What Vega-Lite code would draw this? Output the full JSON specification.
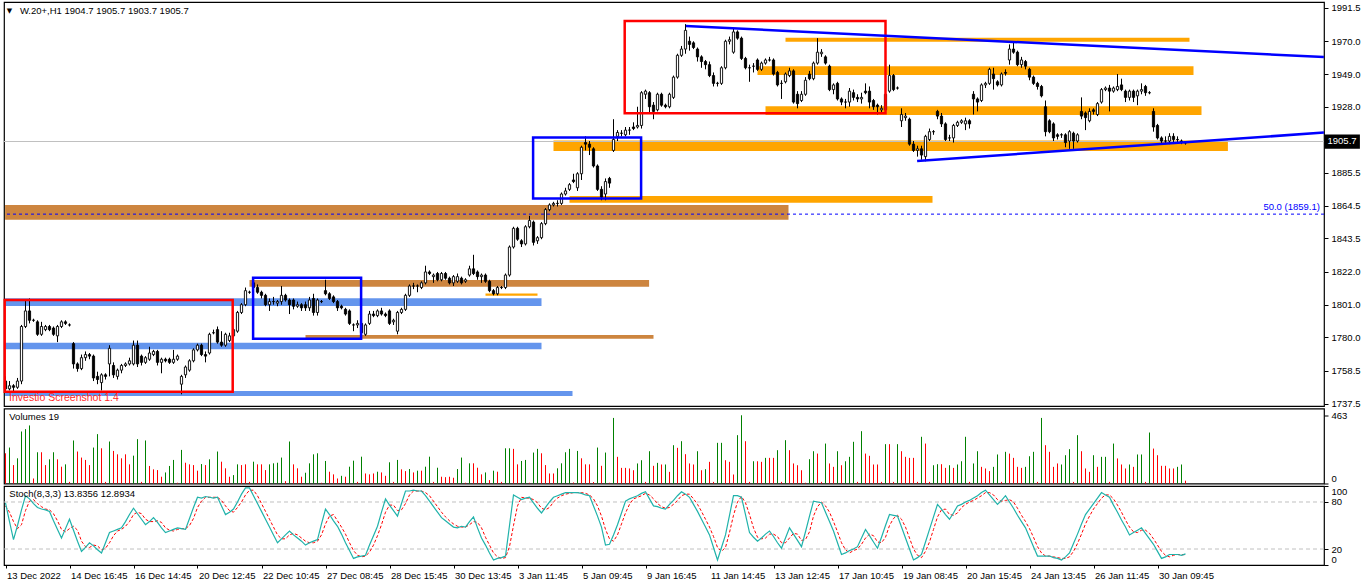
{
  "$schema": "https://vega.github.io/schema/vega-lite/v6.json",
  "padding": {"left": 2, "top": 1, "right": 0, "bottom": 0},
  "background": "white",
  "bounds": "flush",
  "spacing": 2.5,
  "config": {
    "view": {"stroke": "black", "strokeWidth": 1.2},
    "font": "Liberation Sans",
    "axis": {"grid": false, "labelFont": "Liberation Sans", "labelFontSize": 9.5, "labelColor": "black", "tickColor": "black", "domainColor": "black"}
  },
  "datasets": {
    "bars": [
      {"i":0,"o":1752,"h":1755,"l":1745,"c":1747,"v":205,"u":0,"k":79,"d":75},
      {"i":1,"o":1747,"h":1752,"l":1746,"c":1749,"v":244,"u":1,"k":55,"d":67},
      {"i":2,"o":1749,"h":1750,"l":1744.5,"c":1748,"v":125,"u":0,"k":32,"d":55},
      {"i":3,"o":1748,"h":1754,"l":1747,"c":1752,"v":171,"u":1,"k":50,"d":46},
      {"i":4,"o":1752,"h":1788,"l":1750,"c":1787,"v":353,"u":1,"k":70,"d":51},
      {"i":5,"o":1787,"h":1804,"l":1786,"c":1797,"v":369,"u":1,"k":88,"d":69},
      {"i":6,"o":1797,"h":1805,"l":1789,"c":1791,"v":394,"u":1,"k":84,"d":81},
      {"i":7,"o":1791,"h":1792,"l":1790,"c":1791,"v":34,"u":0,"k":78,"d":83},
      {"i":8,"o":1790,"h":1791,"l":1781,"c":1782,"v":212,"u":1,"k":73,"d":78},
      {"i":9,"o":1782,"h":1790,"l":1781,"c":1787,"v":212,"u":0,"k":71,"d":74},
      {"i":10,"o":1785,"h":1788,"l":1784,"c":1787,"v":125,"u":0,"k":70,"d":71},
      {"i":11,"o":1787,"h":1788,"l":1784,"c":1785,"v":164,"u":1,"k":68,"d":70},
      {"i":12,"o":1786,"h":1787,"l":1781,"c":1782,"v":212,"u":1,"k":56,"d":65},
      {"i":13,"o":1781,"h":1788,"l":1777,"c":1787,"v":164,"u":0,"k":45,"d":56},
      {"i":14,"o":1787,"h":1791,"l":1786,"c":1790,"v":114,"u":0,"k":34,"d":45},
      {"i":15,"o":1790,"h":1791,"l":1788,"c":1789,"v":130,"u":1,"k":46,"d":42},
      {"i":16,"o":1788,"h":1789,"l":1787,"c":1788,"v":11,"u":0,"k":58,"d":46},
      {"i":17,"o":1776,"h":1777,"l":1760,"c":1763,"v":292,"u":1,"k":44,"d":49},
      {"i":18,"o":1763,"h":1764,"l":1758,"c":1760,"v":217,"u":0,"k":30,"d":44},
      {"i":19,"o":1760,"h":1769,"l":1759,"c":1767,"v":176,"u":0,"k":17,"d":30},
      {"i":20,"o":1767,"h":1771,"l":1765,"c":1769,"v":160,"u":0,"k":22,"d":23},
      {"i":21,"o":1769,"h":1770,"l":1766,"c":1768,"v":125,"u":0,"k":28,"d":22},
      {"i":22,"o":1768,"h":1769,"l":1752,"c":1754,"v":244,"u":1,"k":24,"d":25},
      {"i":23,"o":1755,"h":1758,"l":1750,"c":1753,"v":335,"u":1,"k":19,"d":24},
      {"i":24,"o":1751,"h":1757,"l":1746,"c":1756,"v":239,"u":0,"k":15,"d":19},
      {"i":25,"o":1756,"h":1757,"l":1753,"c":1755,"v":11,"u":0,"k":28,"d":21},
      {"i":26,"o":1763,"h":1775,"l":1755,"c":1773,"v":285,"u":1,"k":41,"d":28},
      {"i":27,"o":1762,"h":1764,"l":1754,"c":1756,"v":221,"u":0,"k":43,"d":37},
      {"i":28,"o":1755,"h":1760,"l":1753,"c":1759,"v":198,"u":0,"k":45,"d":43},
      {"i":29,"o":1759,"h":1763,"l":1757,"c":1762,"v":171,"u":0,"k":47,"d":45},
      {"i":30,"o":1762,"h":1764,"l":1761,"c":1763,"v":198,"u":0,"k":55,"d":49},
      {"i":31,"o":1763,"h":1767,"l":1762,"c":1765,"v":130,"u":0,"k":64,"d":55},
      {"i":32,"o":1763,"h":1778,"l":1762,"c":1775,"v":189,"u":1,"k":72,"d":64},
      {"i":33,"o":1775,"h":1778,"l":1761,"c":1763,"v":301,"u":1,"k":65,"d":67},
      {"i":34,"o":1768,"h":1769,"l":1762,"c":1764,"v":11,"u":0,"k":58,"d":65},
      {"i":35,"o":1764,"h":1768,"l":1763,"c":1767,"v":292,"u":1,"k":51,"d":58},
      {"i":36,"o":1766,"h":1774,"l":1765,"c":1770,"v":119,"u":0,"k":55,"d":55},
      {"i":37,"o":1769,"h":1772,"l":1768,"c":1771,"v":96,"u":0,"k":60,"d":55},
      {"i":38,"o":1771,"h":1772,"l":1762,"c":1764,"v":91,"u":0,"k":54,"d":56},
      {"i":39,"o":1764,"h":1767,"l":1757,"c":1766,"v":46,"u":0,"k":47,"d":54},
      {"i":40,"o":1766,"h":1767,"l":1764,"c":1765,"v":75,"u":1,"k":41,"d":47},
      {"i":41,"o":1766,"h":1767,"l":1763,"c":1764,"v":119,"u":1,"k":43,"d":44},
      {"i":42,"o":1764,"h":1772,"l":1763,"c":1766,"v":160,"u":1,"k":45,"d":43},
      {"i":43,"o":1766,"h":1769,"l":1765,"c":1768,"v":5,"u":0,"k":47,"d":45},
      {"i":44,"o":1750,"h":1756,"l":1743.5,"c":1755,"v":228,"u":1,"k":46,"d":46},
      {"i":45,"o":1756,"h":1762,"l":1754,"c":1761,"v":141,"u":0,"k":45,"d":46},
      {"i":46,"o":1759,"h":1766,"l":1758,"c":1765,"v":130,"u":0,"k":59,"d":50},
      {"i":47,"o":1765,"h":1773,"l":1764,"c":1772,"v":125,"u":0,"k":73,"d":59},
      {"i":48,"o":1772,"h":1776,"l":1771,"c":1775,"v":87,"u":0,"k":86,"d":73},
      {"i":49,"o":1775,"h":1776,"l":1768,"c":1769,"v":132,"u":1,"k":85,"d":81},
      {"i":50,"o":1769,"h":1771,"l":1764,"c":1768,"v":125,"u":0,"k":87,"d":86},
      {"i":51,"o":1770,"h":1783,"l":1769,"c":1782,"v":164,"u":1,"k":86,"d":86},
      {"i":52,"o":1783,"h":1785,"l":1782,"c":1783,"v":5,"u":0,"k":85,"d":86},
      {"i":53,"o":1785,"h":1787,"l":1776,"c":1777,"v":217,"u":1,"k":86,"d":86},
      {"i":54,"o":1777,"h":1784,"l":1774,"c":1775,"v":148,"u":0,"k":75,"d":82},
      {"i":55,"o":1775,"h":1783,"l":1774,"c":1782,"v":103,"u":0,"k":64,"d":75},
      {"i":56,"o":1778,"h":1783,"l":1777,"c":1781,"v":46,"u":0,"k":67,"d":69},
      {"i":57,"o":1781,"h":1786,"l":1780,"c":1785,"v":57,"u":1,"k":71,"d":67},
      {"i":58,"o":1784,"h":1797,"l":1783,"c":1796,"v":130,"u":1,"k":80,"d":73},
      {"i":59,"o":1796,"h":1802,"l":1795,"c":1801,"v":125,"u":0,"k":90,"d":80},
      {"i":60,"o":1801,"h":1812,"l":1800,"c":1810,"v":130,"u":0,"k":98,"d":89},
      {"i":61,"o":1809,"h":1810,"l":1808,"c":1809,"v":11,"u":0,"k":98,"d":95},
      {"i":62,"o":1815,"h":1817,"l":1811,"c":1812,"v":148,"u":1,"k":88,"d":95},
      {"i":63,"o":1812,"h":1814,"l":1808,"c":1809,"v":130,"u":0,"k":78,"d":88},
      {"i":64,"o":1809,"h":1810,"l":1805,"c":1807,"v":130,"u":0,"k":68,"d":78},
      {"i":65,"o":1807,"h":1808,"l":1800,"c":1801,"v":91,"u":0,"k":58,"d":68},
      {"i":66,"o":1801,"h":1805,"l":1797,"c":1803,"v":130,"u":1,"k":48,"d":58},
      {"i":67,"o":1803,"h":1806,"l":1801,"c":1803,"v":137,"u":1,"k":38,"d":48},
      {"i":68,"o":1802,"h":1804,"l":1800,"c":1803,"v":141,"u":1,"k":28,"d":38},
      {"i":69,"o":1803,"h":1813,"l":1801,"c":1807,"v":176,"u":1,"k":33,"d":33},
      {"i":70,"o":1807,"h":1808,"l":1803,"c":1804,"v":16,"u":0,"k":38,"d":33},
      {"i":71,"o":1804,"h":1805,"l":1795,"c":1801,"v":285,"u":1,"k":43,"d":38},
      {"i":72,"o":1804,"h":1805,"l":1798,"c":1800,"v":130,"u":0,"k":38,"d":40},
      {"i":73,"o":1800,"h":1803,"l":1799,"c":1801,"v":103,"u":0,"k":34,"d":38},
      {"i":74,"o":1801,"h":1802,"l":1797,"c":1799,"v":46,"u":0,"k":30,"d":34},
      {"i":75,"o":1801,"h":1803,"l":1797,"c":1799,"v":73,"u":1,"k":25,"d":30},
      {"i":76,"o":1799,"h":1806,"l":1797,"c":1804,"v":137,"u":1,"k":28,"d":28},
      {"i":77,"o":1805,"h":1808,"l":1794,"c":1796,"v":198,"u":1,"k":30,"d":28},
      {"i":78,"o":1796,"h":1805,"l":1794,"c":1804,"v":205,"u":1,"k":32,"d":30},
      {"i":79,"o":1803,"h":1804,"l":1802,"c":1803,"v":5,"u":0,"k":52,"d":38},
      {"i":80,"o":1810,"h":1817,"l":1807,"c":1808,"v":153,"u":1,"k":71,"d":52},
      {"i":81,"o":1808,"h":1809,"l":1804,"c":1805,"v":80,"u":0,"k":64,"d":62},
      {"i":82,"o":1806,"h":1807,"l":1802,"c":1803,"v":62,"u":0,"k":56,"d":64},
      {"i":83,"o":1803,"h":1804,"l":1797,"c":1799,"v":34,"u":0,"k":49,"d":56},
      {"i":84,"o":1800,"h":1801,"l":1798,"c":1799,"v":52,"u":1,"k":39,"d":48},
      {"i":85,"o":1798,"h":1799,"l":1794,"c":1795,"v":46,"u":0,"k":28,"d":39},
      {"i":86,"o":1797,"h":1798,"l":1788,"c":1789,"v":114,"u":1,"k":18,"d":28},
      {"i":87,"o":1788,"h":1789,"l":1784,"c":1788,"v":155,"u":1,"k":8,"d":18},
      {"i":88,"o":1788,"h":1791,"l":1786,"c":1789,"v":11,"u":0,"k":10,"d":12},
      {"i":89,"o":1789,"h":1790,"l":1782,"c":1783,"v":182,"u":1,"k":11,"d":10},
      {"i":90,"o":1782,"h":1789,"l":1781,"c":1788,"v":68,"u":0,"k":12,"d":11},
      {"i":91,"o":1789,"h":1797,"l":1788,"c":1795,"v":62,"u":0,"k":25,"d":16},
      {"i":92,"o":1795,"h":1797,"l":1793,"c":1794,"v":68,"u":0,"k":37,"d":25},
      {"i":93,"o":1794,"h":1798,"l":1793,"c":1797,"v":80,"u":1,"k":49,"d":37},
      {"i":94,"o":1797,"h":1799,"l":1794,"c":1795,"v":75,"u":0,"k":67,"d":51},
      {"i":95,"o":1795,"h":1796,"l":1793,"c":1794,"v":52,"u":0,"k":84,"d":67},
      {"i":96,"o":1797,"h":1798,"l":1788,"c":1789,"v":144,"u":1,"k":76,"d":76},
      {"i":97,"o":1790,"h":1792,"l":1788,"c":1791,"v":11,"u":0,"k":69,"d":76},
      {"i":98,"o":1784,"h":1797,"l":1782,"c":1796,"v":160,"u":1,"k":62,"d":69},
      {"i":99,"o":1796,"h":1799,"l":1795,"c":1798,"v":96,"u":0,"k":78,"d":70},
      {"i":100,"o":1798,"h":1808,"l":1797,"c":1807,"v":84,"u":0,"k":94,"d":78},
      {"i":101,"o":1807,"h":1814,"l":1806,"c":1813,"v":98,"u":1,"k":94,"d":89},
      {"i":102,"o":1813,"h":1815,"l":1811,"c":1813,"v":75,"u":0,"k":95,"d":94},
      {"i":103,"o":1813,"h":1814,"l":1809,"c":1813,"v":87,"u":1,"k":94,"d":94},
      {"i":104,"o":1812,"h":1816,"l":1811,"c":1815,"v":87,"u":0,"k":94,"d":94},
      {"i":105,"o":1815,"h":1826,"l":1814,"c":1822,"v":114,"u":1,"k":88,"d":92},
      {"i":106,"o":1822,"h":1823,"l":1820,"c":1821,"v":182,"u":1,"k":81,"d":88},
      {"i":107,"o":1819,"h":1821,"l":1815,"c":1820,"v":11,"u":0,"k":74,"d":81},
      {"i":108,"o":1821,"h":1822,"l":1816,"c":1817,"v":107,"u":1,"k":67,"d":74},
      {"i":109,"o":1817,"h":1822,"l":1816,"c":1821,"v":46,"u":0,"k":60,"d":67},
      {"i":110,"o":1821,"h":1822,"l":1817,"c":1818,"v":43,"u":0,"k":56,"d":61},
      {"i":111,"o":1818,"h":1819,"l":1814,"c":1815,"v":46,"u":0,"k":52,"d":56},
      {"i":112,"o":1815,"h":1820,"l":1813,"c":1819,"v":39,"u":0,"k":48,"d":52},
      {"i":113,"o":1816,"h":1821,"l":1815,"c":1819,"v":98,"u":1,"k":47,"d":49},
      {"i":114,"o":1818,"h":1819,"l":1814,"c":1815,"v":176,"u":1,"k":49,"d":48},
      {"i":115,"o":1816,"h":1818,"l":1815,"c":1817,"v":5,"u":0,"k":48,"d":48},
      {"i":116,"o":1820,"h":1826,"l":1819,"c":1824,"v":137,"u":1,"k":55,"d":51},
      {"i":117,"o":1824,"h":1833,"l":1820,"c":1821,"v":137,"u":0,"k":61,"d":55},
      {"i":118,"o":1822,"h":1823,"l":1817,"c":1819,"v":107,"u":0,"k":47,"d":54},
      {"i":119,"o":1819,"h":1821,"l":1815,"c":1820,"v":62,"u":0,"k":34,"d":47},
      {"i":120,"o":1820,"h":1821,"l":1815,"c":1816,"v":75,"u":1,"k":25,"d":35},
      {"i":121,"o":1816,"h":1817,"l":1809,"c":1810,"v":23,"u":0,"k":15,"d":25},
      {"i":122,"o":1810,"h":1811,"l":1807,"c":1808,"v":87,"u":1,"k":6,"d":15},
      {"i":123,"o":1808,"h":1813,"l":1807,"c":1812,"v":80,"u":0,"k":8,"d":10},
      {"i":124,"o":1812,"h":1813,"l":1811,"c":1812,"v":11,"u":0,"k":9,"d":8},
      {"i":125,"o":1812,"h":1821,"l":1811,"c":1820,"v":239,"u":1,"k":11,"d":9},
      {"i":126,"o":1820,"h":1839,"l":1819,"c":1838,"v":239,"u":1,"k":50,"d":23},
      {"i":127,"o":1838,"h":1851,"l":1837,"c":1850,"v":235,"u":0,"k":89,"d":50},
      {"i":128,"o":1850,"h":1851,"l":1842,"c":1843,"v":130,"u":0,"k":86,"d":75},
      {"i":129,"o":1842,"h":1843,"l":1838,"c":1840,"v":153,"u":1,"k":83,"d":86},
      {"i":130,"o":1840,"h":1852,"l":1839,"c":1851,"v":160,"u":1,"k":85,"d":85},
      {"i":131,"o":1851,"h":1858,"l":1850,"c":1855,"v":5,"u":0,"k":86,"d":85},
      {"i":132,"o":1854,"h":1855,"l":1839,"c":1841,"v":210,"u":1,"k":79,"d":83},
      {"i":133,"o":1842,"h":1845,"l":1840,"c":1844,"v":235,"u":1,"k":72,"d":79},
      {"i":134,"o":1844,"h":1854,"l":1843,"c":1853,"v":205,"u":0,"k":66,"d":72},
      {"i":135,"o":1853,"h":1863,"l":1852,"c":1862,"v":125,"u":0,"k":73,"d":70},
      {"i":136,"o":1862,"h":1866,"l":1861,"c":1865,"v":68,"u":0,"k":80,"d":73},
      {"i":137,"o":1865,"h":1867,"l":1864,"c":1866,"v":68,"u":0,"k":86,"d":80},
      {"i":138,"o":1866,"h":1868,"l":1864,"c":1866,"v":103,"u":1,"k":88,"d":85},
      {"i":139,"o":1866,"h":1873,"l":1865,"c":1872,"v":137,"u":1,"k":90,"d":88},
      {"i":140,"o":1872,"h":1876,"l":1871,"c":1874,"v":212,"u":1,"k":92,"d":90},
      {"i":141,"o":1875,"h":1879,"l":1874,"c":1878,"v":235,"u":1,"k":92,"d":91},
      {"i":142,"o":1881,"h":1885,"l":1879,"c":1880,"v":7,"u":0,"k":92,"d":92},
      {"i":143,"o":1876,"h":1886,"l":1874,"c":1885,"v":221,"u":1,"k":92,"d":92},
      {"i":144,"o":1885,"h":1903,"l":1881,"c":1902,"v":171,"u":0,"k":91,"d":92},
      {"i":145,"o":1905,"h":1909,"l":1900,"c":1904,"v":130,"u":0,"k":89,"d":91},
      {"i":146,"o":1904,"h":1906,"l":1897,"c":1902,"v":130,"u":0,"k":88,"d":89},
      {"i":147,"o":1901,"h":1902,"l":1889,"c":1890,"v":10,"u":0,"k":75,"d":84},
      {"i":148,"o":1890,"h":1891,"l":1874,"c":1875,"v":244,"u":1,"k":62,"d":75},
      {"i":149,"o":1875,"h":1877,"l":1868,"c":1870,"v":120,"u":0,"k":48,"d":62},
      {"i":150,"o":1872,"h":1882,"l":1868,"c":1880,"v":210,"u":1,"k":25,"d":45},
      {"i":151,"o":1882,"h":1883,"l":1876,"c":1879,"v":5,"u":0,"k":26,"d":33},
      {"i":152,"o":1900,"h":1920,"l":1899,"c":1907,"v":445,"u":1,"k":38,"d":30},
      {"i":153,"o":1909,"h":1913,"l":1906,"c":1911.5,"v":181,"u":0,"k":51,"d":38},
      {"i":154,"o":1911,"h":1913,"l":1909,"c":1911,"v":106,"u":0,"k":66,"d":52},
      {"i":155,"o":1910,"h":1915,"l":1909,"c":1913,"v":106,"u":0,"k":81,"d":66},
      {"i":156,"o":1913,"h":1915,"l":1910,"c":1913,"v":102,"u":0,"k":84,"d":77},
      {"i":157,"o":1915,"h":1918,"l":1913,"c":1914,"v":90,"u":0,"k":86,"d":84},
      {"i":158,"o":1915,"h":1928,"l":1914,"c":1916,"v":136,"u":1,"k":88,"d":86},
      {"i":159,"o":1916,"h":1938,"l":1914,"c":1937,"v":158,"u":1,"k":91,"d":88},
      {"i":160,"o":1936,"h":1939,"l":1933,"c":1938,"v":11,"u":0,"k":93,"d":91},
      {"i":161,"o":1937,"h":1938,"l":1924,"c":1928,"v":219,"u":1,"k":84,"d":89},
      {"i":162,"o":1929,"h":1931,"l":1920,"c":1925,"v":120,"u":0,"k":75,"d":84},
      {"i":163,"o":1926,"h":1937,"l":1925,"c":1936,"v":140,"u":1,"k":74,"d":78},
      {"i":164,"o":1936,"h":1937,"l":1928,"c":1929,"v":129,"u":0,"k":72,"d":74},
      {"i":165,"o":1929,"h":1930,"l":1927,"c":1928,"v":129,"u":1,"k":71,"d":72},
      {"i":166,"o":1928,"h":1937,"l":1927,"c":1936,"v":79,"u":0,"k":77,"d":73},
      {"i":167,"o":1934,"h":1948,"l":1933,"c":1947,"v":260,"u":1,"k":82,"d":77},
      {"i":168,"o":1947,"h":1962,"l":1946,"c":1961,"v":242,"u":0,"k":88,"d":82},
      {"i":169,"o":1961,"h":1967,"l":1960,"c":1965,"v":287,"u":1,"k":93,"d":88},
      {"i":170,"o":1965,"h":1981,"l":1962,"c":1977,"v":199,"u":0,"k":90,"d":90},
      {"i":171,"o":1970,"h":1973,"l":1964,"c":1968,"v":136,"u":0,"k":86,"d":90},
      {"i":172,"o":1969,"h":1970,"l":1965,"c":1966,"v":129,"u":0,"k":77,"d":84},
      {"i":173,"o":1965,"h":1966,"l":1957,"c":1960,"v":219,"u":1,"k":68,"d":77},
      {"i":174,"o":1960,"h":1961,"l":1953,"c":1957,"v":90,"u":0,"k":58,"d":68},
      {"i":175,"o":1957,"h":1958,"l":1952,"c":1955,"v":97,"u":1,"k":48,"d":58},
      {"i":176,"o":1955,"h":1957,"l":1947,"c":1948,"v":147,"u":0,"k":38,"d":48},
      {"i":177,"o":1948,"h":1950,"l":1941,"c":1943,"v":11,"u":0,"k":22,"d":36},
      {"i":178,"o":1943,"h":1944,"l":1941,"c":1943,"v":276,"u":1,"k":6,"d":22},
      {"i":179,"o":1943,"h":1954,"l":1942,"c":1953,"v":276,"u":1,"k":22,"d":17},
      {"i":180,"o":1953,"h":1971,"l":1952,"c":1970,"v":158,"u":0,"k":38,"d":22},
      {"i":181,"o":1970,"h":1973,"l":1968,"c":1971,"v":147,"u":0,"k":63,"d":41},
      {"i":182,"o":1963,"h":1978,"l":1962,"c":1976,"v":61,"u":0,"k":88,"d":63},
      {"i":183,"o":1976,"h":1977,"l":1971,"c":1972,"v":328,"u":1,"k":88,"d":80},
      {"i":184,"o":1972,"h":1973,"l":1958,"c":1959,"v":463,"u":1,"k":86,"d":87},
      {"i":185,"o":1959,"h":1960,"l":1952,"c":1953,"v":287,"u":0,"k":64,"d":79},
      {"i":186,"o":1953,"h":1955,"l":1944,"c":1953,"v":11,"u":0,"k":41,"d":64},
      {"i":187,"o":1954,"h":1956,"l":1950,"c":1954,"v":151,"u":1,"k":35,"d":47},
      {"i":188,"o":1958,"h":1959,"l":1951,"c":1952,"v":151,"u":0,"k":30,"d":35},
      {"i":189,"o":1952,"h":1957,"l":1951,"c":1956,"v":147,"u":0,"k":34,"d":33},
      {"i":190,"o":1956,"h":1959,"l":1955,"c":1958,"v":174,"u":1,"k":39,"d":34},
      {"i":191,"o":1958,"h":1960,"l":1957,"c":1958,"v":174,"u":0,"k":43,"d":39},
      {"i":192,"o":1958,"h":1959,"l":1948,"c":1949,"v":174,"u":0,"k":36,"d":39},
      {"i":193,"o":1950,"h":1951,"l":1941,"c":1942,"v":226,"u":1,"k":28,"d":36},
      {"i":194,"o":1943,"h":1945,"l":1933,"c":1943,"v":11,"u":0,"k":21,"d":28},
      {"i":195,"o":1944,"h":1950,"l":1943,"c":1949,"v":294,"u":1,"k":34,"d":28},
      {"i":196,"o":1948,"h":1953,"l":1947,"c":1951,"v":226,"u":0,"k":47,"d":34},
      {"i":197,"o":1951,"h":1952,"l":1930,"c":1931,"v":136,"u":0,"k":39,"d":40},
      {"i":198,"o":1936,"h":1938,"l":1927,"c":1930,"v":124,"u":0,"k":31,"d":39},
      {"i":199,"o":1932,"h":1938,"l":1931,"c":1936,"v":90,"u":0,"k":23,"d":31},
      {"i":200,"o":1936,"h":1947,"l":1935,"c":1945,"v":5,"u":0,"k":42,"d":32},
      {"i":201,"o":1949,"h":1951,"l":1945,"c":1946,"v":165,"u":1,"k":62,"d":42},
      {"i":202,"o":1946,"h":1957,"l":1945,"c":1956,"v":219,"u":1,"k":81,"d":62},
      {"i":203,"o":1956,"h":1972,"l":1955,"c":1963,"v":203,"u":0,"k":80,"d":74},
      {"i":204,"o":1962,"h":1965,"l":1960,"c":1963,"v":11,"u":0,"k":79,"d":80},
      {"i":205,"o":1960,"h":1961,"l":1955,"c":1956,"v":271,"u":1,"k":67,"d":75},
      {"i":206,"o":1954,"h":1955,"l":1938,"c":1939,"v":136,"u":0,"k":55,"d":67},
      {"i":207,"o":1939,"h":1943,"l":1936,"c":1942,"v":113,"u":0,"k":43,"d":55},
      {"i":208,"o":1943,"h":1944,"l":1932,"c":1933,"v":219,"u":1,"k":28,"d":42},
      {"i":209,"o":1933,"h":1934,"l":1929,"c":1931,"v":124,"u":0,"k":13,"d":28},
      {"i":210,"o":1931,"h":1933,"l":1927,"c":1931,"v":151,"u":1,"k":15,"d":19},
      {"i":211,"o":1931,"h":1940,"l":1928,"c":1938,"v":181,"u":1,"k":18,"d":15},
      {"i":212,"o":1937,"h":1939,"l":1932,"c":1934,"v":283,"u":1,"k":20,"d":18},
      {"i":213,"o":1934,"h":1936,"l":1931,"c":1933,"v":11,"u":0,"k":23,"d":20},
      {"i":214,"o":1933,"h":1937,"l":1930,"c":1934,"v":355,"u":1,"k":34,"d":26},
      {"i":215,"o":1938,"h":1943,"l":1936,"c":1937,"v":203,"u":0,"k":45,"d":34},
      {"i":216,"o":1938,"h":1941,"l":1927,"c":1931,"v":188,"u":0,"k":37,"d":39},
      {"i":217,"o":1932,"h":1933,"l":1926,"c":1928,"v":129,"u":0,"k":29,"d":37},
      {"i":218,"o":1929,"h":1930,"l":1923,"c":1928,"v":129,"u":0,"k":21,"d":29},
      {"i":219,"o":1926,"h":1929,"l":1924,"c":1927,"v":11,"u":0,"k":35,"d":28},
      {"i":220,"o":1926,"h":1940,"l":1925,"c":1936,"v":267,"u":1,"k":50,"d":35},
      {"i":221,"o":1938,"h":1955,"l":1937,"c":1948,"v":267,"u":0,"k":64,"d":50},
      {"i":222,"o":1948,"h":1949,"l":1938,"c":1939,"v":11,"u":0,"k":63,"d":59},
      {"i":223,"o":1940,"h":1941,"l":1939,"c":1940,"v":267,"u":1,"k":62,"d":63},
      {"i":224,"o":1919,"h":1927,"l":1915,"c":1923,"v":219,"u":0,"k":48,"d":58},
      {"i":225,"o":1921,"h":1924,"l":1919,"c":1922,"v":181,"u":0,"k":34,"d":48},
      {"i":226,"o":1920,"h":1921,"l":1903,"c":1904,"v":174,"u":0,"k":20,"d":34},
      {"i":227,"o":1904,"h":1906,"l":1899,"c":1900,"v":174,"u":0,"k":6,"d":20},
      {"i":228,"o":1900,"h":1903,"l":1896,"c":1901,"v":11,"u":0,"k":9,"d":12},
      {"i":229,"o":1901,"h":1903,"l":1894,"c":1897,"v":317,"u":1,"k":13,"d":9},
      {"i":230,"o":1896,"h":1910,"l":1893,"c":1909,"v":271,"u":0,"k":29,"d":17},
      {"i":231,"o":1907,"h":1914,"l":1906,"c":1912,"v":11,"u":0,"k":45,"d":29},
      {"i":232,"o":1912,"h":1913,"l":1910,"c":1912,"v":124,"u":1,"k":61,"d":45},
      {"i":233,"o":1925,"h":1926,"l":1920,"c":1922,"v":131,"u":1,"k":77,"d":61},
      {"i":234,"o":1922,"h":1924,"l":1915,"c":1917,"v":131,"u":0,"k":71,"d":70},
      {"i":235,"o":1917,"h":1918,"l":1906,"c":1907,"v":106,"u":0,"k":64,"d":71},
      {"i":236,"o":1908,"h":1910,"l":1906,"c":1908,"v":124,"u":1,"k":58,"d":64},
      {"i":237,"o":1908,"h":1917,"l":1905,"c":1916,"v":106,"u":0,"k":66,"d":63},
      {"i":238,"o":1916,"h":1919,"l":1915,"c":1918,"v":129,"u":1,"k":75,"d":66},
      {"i":239,"o":1918,"h":1920,"l":1917,"c":1919,"v":151,"u":1,"k":77,"d":73},
      {"i":240,"o":1917,"h":1921,"l":1913,"c":1919,"v":317,"u":1,"k":80,"d":77},
      {"i":241,"o":1919,"h":1920,"l":1914,"c":1917,"v":11,"u":0,"k":82,"d":80},
      {"i":242,"o":1936,"h":1938,"l":1923,"c":1933,"v":136,"u":1,"k":85,"d":82},
      {"i":243,"o":1933,"h":1934,"l":1925,"c":1931,"v":219,"u":1,"k":88,"d":85},
      {"i":244,"o":1932,"h":1943,"l":1931,"c":1942,"v":113,"u":0,"k":92,"d":88},
      {"i":245,"o":1942,"h":1944,"l":1940,"c":1943,"v":102,"u":0,"k":95,"d":92},
      {"i":246,"o":1943,"h":1953,"l":1942,"c":1952,"v":84,"u":0,"k":89,"d":92},
      {"i":247,"o":1949,"h":1953,"l":1939,"c":1946,"v":113,"u":1,"k":83,"d":89},
      {"i":248,"o":1944,"h":1945,"l":1941,"c":1942,"v":197,"u":1,"k":77,"d":83},
      {"i":249,"o":1942,"h":1950,"l":1941,"c":1949,"v":11,"u":0,"k":82,"d":81},
      {"i":250,"o":1950,"h":1952,"l":1948,"c":1949.5,"v":215,"u":1,"k":88,"d":82},
      {"i":251,"o":1958,"h":1968,"l":1955,"c":1965,"v":203,"u":0,"k":80,"d":83},
      {"i":252,"o":1965,"h":1969,"l":1962,"c":1963,"v":174,"u":0,"k":72,"d":80},
      {"i":253,"o":1963,"h":1964,"l":1954,"c":1955,"v":113,"u":0,"k":63,"d":72},
      {"i":254,"o":1955,"h":1960,"l":1953,"c":1958,"v":106,"u":0,"k":55,"d":63},
      {"i":255,"o":1957,"h":1958,"l":1952,"c":1954,"v":113,"u":1,"k":47,"d":55},
      {"i":256,"o":1952,"h":1953,"l":1945,"c":1947,"v":185,"u":1,"k":35,"d":46},
      {"i":257,"o":1947,"h":1948,"l":1942,"c":1943,"v":215,"u":1,"k":23,"d":35},
      {"i":258,"o":1943,"h":1944,"l":1939,"c":1941,"v":11,"u":0,"k":11,"d":23},
      {"i":259,"o":1941,"h":1942,"l":1934,"c":1935,"v":445,"u":1,"k":11,"d":15},
      {"i":260,"o":1928,"h":1932,"l":1909,"c":1912,"v":260,"u":0,"k":11,"d":11},
      {"i":261,"o":1919,"h":1920,"l":1911,"c":1912,"v":215,"u":0,"k":11,"d":11},
      {"i":262,"o":1917,"h":1918,"l":1906,"c":1908,"v":113,"u":0,"k":9,"d":10},
      {"i":263,"o":1910,"h":1911,"l":1907,"c":1909,"v":136,"u":0,"k":8,"d":9},
      {"i":264,"o":1910,"h":1911,"l":1908,"c":1910,"v":129,"u":1,"k":6,"d":8},
      {"i":265,"o":1910,"h":1911,"l":1902,"c":1905,"v":192,"u":1,"k":10,"d":8},
      {"i":266,"o":1906,"h":1913,"l":1901,"c":1912,"v":233,"u":1,"k":15,"d":10},
      {"i":267,"o":1911,"h":1912,"l":1901,"c":1906,"v":11,"u":0,"k":27,"d":17},
      {"i":268,"o":1906,"h":1911,"l":1905,"c":1910,"v":328,"u":1,"k":39,"d":27},
      {"i":269,"o":1925,"h":1934,"l":1920,"c":1922,"v":219,"u":0,"k":52,"d":39},
      {"i":270,"o":1924,"h":1925,"l":1913,"c":1921,"v":102,"u":0,"k":64,"d":52},
      {"i":271,"o":1919,"h":1927,"l":1918,"c":1925,"v":79,"u":0,"k":71,"d":62},
      {"i":272,"o":1926,"h":1927,"l":1923,"c":1925,"v":192,"u":1,"k":78,"d":71},
      {"i":273,"o":1923,"h":1931,"l":1922,"c":1930,"v":113,"u":0,"k":85,"d":78},
      {"i":274,"o":1931,"h":1940,"l":1930,"c":1939,"v":181,"u":1,"k":92,"d":85},
      {"i":275,"o":1939,"h":1941,"l":1938,"c":1940,"v":181,"u":1,"k":89,"d":89},
      {"i":276,"o":1940,"h":1942,"l":1925,"c":1938,"v":11,"u":0,"k":86,"d":89},
      {"i":277,"o":1938,"h":1941,"l":1937,"c":1940,"v":271,"u":1,"k":76,"d":84},
      {"i":278,"o":1939,"h":1949,"l":1938,"c":1941,"v":170,"u":0,"k":67,"d":76},
      {"i":279,"o":1942,"h":1946,"l":1938,"c":1939,"v":129,"u":0,"k":57,"d":67},
      {"i":280,"o":1938,"h":1939,"l":1931,"c":1934,"v":102,"u":0,"k":48,"d":57},
      {"i":281,"o":1934,"h":1939,"l":1932,"c":1938,"v":129,"u":1,"k":38,"d":48},
      {"i":282,"o":1938,"h":1939,"l":1931,"c":1934,"v":113,"u":0,"k":41,"d":42},
      {"i":283,"o":1935,"h":1939,"l":1929,"c":1938,"v":197,"u":1,"k":44,"d":41},
      {"i":284,"o":1938,"h":1943,"l":1936,"c":1939,"v":197,"u":1,"k":47,"d":44},
      {"i":285,"o":1941,"h":1942,"l":1935,"c":1937,"v":11,"u":0,"k":40,"d":44},
      {"i":286,"o":1937,"h":1938,"l":1936,"c":1937,"v":346,"u":1,"k":33,"d":40},
      {"i":287,"o":1925,"h":1927,"l":1912,"c":1915,"v":237,"u":0,"k":26,"d":33},
      {"i":288,"o":1916,"h":1917,"l":1907,"c":1908,"v":192,"u":0,"k":17,"d":25},
      {"i":289,"o":1908,"h":1909,"l":1904,"c":1906,"v":120,"u":0,"k":8,"d":17},
      {"i":290,"o":1906,"h":1909,"l":1904,"c":1906,"v":120,"u":0,"k":10,"d":12},
      {"i":291,"o":1906,"h":1911,"l":1904,"c":1909,"v":102,"u":0,"k":13,"d":10},
      {"i":292,"o":1909,"h":1911,"l":1905,"c":1907,"v":102,"u":0,"k":13,"d":12},
      {"i":293,"o":1907,"h":1909,"l":1905,"c":1907,"v":113,"u":1,"k":13,"d":13},
      {"i":294,"o":1906,"h":1907,"l":1904,"c":1905,"v":129,"u":1,"k":12,"d":12.7},
      {"i":295,"o":1904.7,"h":1905.7,"l":1903.7,"c":1905.7,"v":19,"u":0,"k":13.8356,"d":12.8934}
    ],
    "zones": [
      {"i":-0.1,"i2":195.75,"p":1864.9,"p2":1855.5,"g":"br"},
      {"i":61,"i2":160.9,"p":1816.8,"p2":1812.5,"g":"br"},
      {"i":75,"i2":162,"p":1781.6,"p2":1779.2,"g":"br"},
      {"i":-0.1,"i2":134,"p":1805.1,"p2":1800.2,"g":"bl"},
      {"i":-0.1,"i2":134,"p":1776.6,"p2":1772.4,"g":"bl"},
      {"i":-0.1,"i2":141.75,"p":1745.6,"p2":1742.4,"g":"bl"},
      {"i":120,"i2":133,"p":1808.2,"p2":1806.8,"g":"or"},
      {"i":141,"i2":231.75,"p":1870.7,"p2":1866.4,"g":"or"},
      {"i":137,"i2":305.6,"p":1906.4,"p2":1899.6,"g":"or"},
      {"i":190,"i2":299,"p":1928.3,"p2":1922.7,"g":"or"},
      {"i":188,"i2":297,"p":1953.9,"p2":1948.3,"g":"or"},
      {"i":195,"i2":296,"p":1972.3,"p2":1969.7,"g":"or"}
    ],
    "boxes": [
      {"i":-0.2,"i2":56.8,"p":1804.0,"p2":1745.2,"g":"red"},
      {"i":154.8,"i2":220.0,"p":1983.0,"p2":1923.8,"g":"red"},
      {"i":61.9,"i2":88.9,"p":1818.3,"p2":1779.2,"g":"blue"},
      {"i":131.9,"i2":158.9,"p":1908.2,"p2":1869.2,"g":"blue"}
    ],
    "trends": [
      {"g":"upper","i":170.1,"p":1979.8},
      {"g":"upper","i":329.6,"p":1959.9},
      {"g":"lower","i":227.9,"p":1893.2},
      {"g":"lower","i":329.6,"p":1911.4}
    ]
  },
  "vconcat": [
    {
      "width": 1320,
      "height": 404,
      "resolve": {"axis": {"x": "independent", "y": "independent"}},
      "layer": [
        {
          "data": {"name": "zones"},
          "mark": {"type": "rect"},
          "encoding": {
            "x": {"field": "i", "type": "quantitative", "scale": {"domain": [-0.375, 329.625], "nice": false, "zero": false, "padding": 0}, "axis": null},
            "x2": {"field": "i2"},
            "y": {"field": "p", "type": "quantitative", "scale": {"domain": [1736.0, 1995.2], "nice": false, "zero": false, "padding": 0}, "axis": null},
            "y2": {"field": "p2"},
            "fill": {"field": "g", "type": "nominal", "scale": {"domain": ["br", "bl", "or"], "range": ["#CD853F", "#6495ED", "#FFA500"]}, "legend": null}
          }
        },
        {
          "data": {"values": [{"p": 1905.7}]},
          "mark": {"type": "rule", "color": "#C0C0C0", "strokeWidth": 1},
          "encoding": {
            "y": {"field": "p", "type": "quantitative", "scale": {"domain": [1736.0, 1995.2], "nice": false, "zero": false, "padding": 0}, "axis": null}
          }
        },
        {
          "data": {"values": [{"p": 1859.1}]},
          "mark": {"type": "rule", "color": "#0000FF", "strokeWidth": 1, "strokeDash": [3, 3]},
          "encoding": {
            "y": {"field": "p", "type": "quantitative", "scale": {"domain": [1736.0, 1995.2], "nice": false, "zero": false, "padding": 0}, "axis": null}
          }
        },
        {
          "data": {"name": "bars"},
          "mark": {"type": "rule", "color": "black", "strokeWidth": 1},
          "encoding": {
            "x": {"field": "i", "type": "quantitative", "scale": {"domain": [-0.375, 329.625], "nice": false, "zero": false, "padding": 0}, "axis": null},
            "y": {"field": "l", "type": "quantitative", "scale": {"domain": [1736.0, 1995.2], "nice": false, "zero": false, "padding": 0},
              "axis": {"orient": "right", "title": null, "values": [1737.5, 1758.5, 1780.0, 1801.0, 1822.0, 1843.5, 1864.5, 1885.5, 1928.0, 1949.0, 1970.0, 1991.5], "format": ".1f", "tickSize": 4, "labelPadding": 3, "domain": false}},
            "y2": {"field": "h"}
          }
        },
        {
          "data": {"name": "bars"},
          "mark": {"type": "bar", "width": 2.2, "stroke": "black", "strokeWidth": 0.9},
          "encoding": {
            "x": {"field": "i", "type": "quantitative", "scale": {"domain": [-0.375, 329.625], "nice": false, "zero": false, "padding": 0}, "axis": null},
            "y": {"field": "o", "type": "quantitative", "scale": {"domain": [1736.0, 1995.2], "nice": false, "zero": false, "padding": 0}, "axis": null},
            "y2": {"field": "c"},
            "fill": {"condition": {"test": "datum.c < datum.o", "value": "black"}, "value": "white"}
          }
        },
        {
          "data": {"name": "boxes"},
          "mark": {"type": "rect", "fill": null, "strokeWidth": 2.5},
          "encoding": {
            "x": {"field": "i", "type": "quantitative", "scale": {"domain": [-0.375, 329.625], "nice": false, "zero": false, "padding": 0}, "axis": null},
            "x2": {"field": "i2"},
            "y": {"field": "p", "type": "quantitative", "scale": {"domain": [1736.0, 1995.2], "nice": false, "zero": false, "padding": 0}, "axis": null},
            "y2": {"field": "p2"},
            "stroke": {"field": "g", "type": "nominal", "scale": {"domain": ["red", "blue"], "range": ["#FF0000", "#0000FF"]}, "legend": null}
          }
        },
        {
          "data": {"name": "trends"},
          "mark": {"type": "line", "color": "#0000FF", "strokeWidth": 2.5, "clip": true},
          "encoding": {
            "x": {"field": "i", "type": "quantitative", "scale": {"domain": [-0.375, 329.625], "nice": false, "zero": false, "padding": 0}, "axis": null},
            "y": {"field": "p", "type": "quantitative", "scale": {"domain": [1736.0, 1995.2], "nice": false, "zero": false, "padding": 0}, "axis": null},
            "detail": {"field": "g"}
          }
        },
        {
          "data": {"values": [{"i": 0.3, "p": 1989.4, "t": "▼"}]},
          "mark": {"type": "text", "align": "left", "baseline": "middle", "fontSize": 7, "font": "DejaVu Sans", "color": "black"},
          "encoding": {
            "x": {"field": "i", "type": "quantitative", "scale": {"domain": [-0.375, 329.625], "nice": false, "zero": false, "padding": 0}, "axis": null},
            "y": {"field": "p", "type": "quantitative", "scale": {"domain": [1736.0, 1995.2], "nice": false, "zero": false, "padding": 0}, "axis": null},
            "text": {"field": "t"}
          }
        },
        {
          "data": {"values": [{"i": 3.6, "p": 1989.4, "t": "W.20+,H1  1904.7 1905.7 1903.7 1905.7"}]},
          "mark": {"type": "text", "align": "left", "baseline": "middle", "fontSize": 9.5, "color": "black"},
          "encoding": {
            "x": {"field": "i", "type": "quantitative", "scale": {"domain": [-0.375, 329.625], "nice": false, "zero": false, "padding": 0}, "axis": null},
            "y": {"field": "p", "type": "quantitative", "scale": {"domain": [1736.0, 1995.2], "nice": false, "zero": false, "padding": 0}, "axis": null},
            "text": {"field": "t"}
          }
        },
        {
          "data": {"values": [{"i": 0.9, "p": 1741.2, "t": "Investio Screenshot 1.4"}]},
          "mark": {"type": "text", "align": "left", "baseline": "middle", "fontSize": 10.5, "color": "#FF2A2A"},
          "encoding": {
            "x": {"field": "i", "type": "quantitative", "scale": {"domain": [-0.375, 329.625], "nice": false, "zero": false, "padding": 0}, "axis": null},
            "y": {"field": "p", "type": "quantitative", "scale": {"domain": [1736.0, 1995.2], "nice": false, "zero": false, "padding": 0}, "axis": null},
            "text": {"field": "t"}
          }
        },
        {
          "data": {"values": [{"i": 328.6, "p": 1863.6, "t": "50.0 (1859.1)"}]},
          "mark": {"type": "text", "align": "right", "baseline": "middle", "fontSize": 9.5, "color": "#0000FF"},
          "encoding": {
            "x": {"field": "i", "type": "quantitative", "scale": {"domain": [-0.375, 329.625], "nice": false, "zero": false, "padding": 0}, "axis": null},
            "y": {"field": "p", "type": "quantitative", "scale": {"domain": [1736.0, 1995.2], "nice": false, "zero": false, "padding": 0}, "axis": null},
            "text": {"field": "t"}
          }
        },
        {
          "data": {"values": [{"i": 329.7, "i2": 338.6, "p": 1910.2, "p2": 1901.1}]},
          "mark": {"type": "rect", "color": "black"},
          "encoding": {
            "x": {"field": "i", "type": "quantitative", "scale": {"domain": [-0.375, 329.625], "nice": false, "zero": false, "padding": 0}, "axis": null},
            "x2": {"field": "i2"},
            "y": {"field": "p", "type": "quantitative", "scale": {"domain": [1736.0, 1995.2], "nice": false, "zero": false, "padding": 0}, "axis": null},
            "y2": {"field": "p2"}
          }
        },
        {
          "data": {"values": [{"i": 330.5, "p": 1905.7, "t": "1905.7"}]},
          "mark": {"type": "text", "align": "left", "baseline": "middle", "fontSize": 9.5, "color": "white"},
          "encoding": {
            "x": {"field": "i", "type": "quantitative", "scale": {"domain": [-0.375, 329.625], "nice": false, "zero": false, "padding": 0}, "axis": null},
            "y": {"field": "p", "type": "quantitative", "scale": {"domain": [1736.0, 1995.2], "nice": false, "zero": false, "padding": 0}, "axis": null},
            "text": {"field": "t"}
          }
        }
      ]
    },
    {
      "width": 1320,
      "height": 75,
      "resolve": {"axis": {"x": "independent", "y": "independent"}},
      "layer": [
        {
          "data": {"name": "bars"},
          "mark": {"type": "rule", "strokeWidth": 1},
          "encoding": {
            "x": {"field": "i", "type": "quantitative", "scale": {"domain": [-0.375, 329.625], "nice": false, "zero": false, "padding": 0}, "axis": null},
            "y": {"field": "v", "type": "quantitative", "scale": {"domain": [0, 509], "nice": false, "zero": false, "padding": 0},
              "axis": {"orient": "right", "title": null, "values": [0, 463], "tickSize": 4, "labelPadding": 3, "domain": false,
                "labelBaseline": {"condition": {"test": "datum.value === 0", "value": "bottom"}, "value": "middle"}}},
            "y2": {"datum": 0},
            "stroke": {"condition": {"test": "datum.u === 1", "value": "#008000"}, "value": "#FF0000"}
          }
        },
        {
          "data": {"values": [{"i": 0.95, "v": 452, "t": "Volumes 19"}]},
          "mark": {"type": "text", "align": "left", "baseline": "middle", "fontSize": 9.5, "color": "black"},
          "encoding": {
            "x": {"field": "i", "type": "quantitative", "scale": {"domain": [-0.375, 329.625], "nice": false, "zero": false, "padding": 0}, "axis": null},
            "y": {"field": "v", "type": "quantitative", "scale": {"domain": [0, 509], "nice": false, "zero": false, "padding": 0}, "axis": null},
            "text": {"field": "t"}
          }
        }
      ]
    },
    {
      "width": 1320,
      "height": 79,
      "resolve": {"axis": {"x": "independent", "y": "independent"}},
      "layer": [
        {
          "data": {"values": [{"s": 20}, {"s": 80}]},
          "mark": {"type": "rule", "color": "#C0C0C0", "strokeWidth": 1, "strokeDash": [4, 3]},
          "encoding": {
            "y": {"field": "s", "type": "quantitative", "scale": {"domain": [-0.4, 100.4], "nice": false, "zero": false, "padding": 0}, "axis": null}
          }
        },
        {
          "data": {"name": "bars"},
          "mark": {"type": "line", "color": "#FF0000", "strokeWidth": 1, "strokeDash": [3, 2]},
          "encoding": {
            "x": {"field": "i", "type": "quantitative", "scale": {"domain": [-0.375, 329.625], "nice": false, "zero": false, "padding": 0}, "axis": null},
            "y": {"field": "d", "type": "quantitative", "scale": {"domain": [-0.4, 100.4], "nice": false, "zero": false, "padding": 0}, "axis": null}
          }
        },
        {
          "data": {"name": "bars"},
          "mark": {"type": "line", "color": "#20B2AA", "strokeWidth": 1.2},
          "encoding": {
            "x": {"field": "i", "type": "quantitative", "scale": {"domain": [-0.375, 329.625], "nice": false, "zero": false, "padding": 0},
              "axis": {"orient": "bottom", "title": null, "values": [0, 16, 32, 48, 64, 80, 96, 112, 128, 144, 160, 176, 192, 208, 224, 240, 256, 272, 288],
                "labelExpr": "['13 Dec 2022','14 Dec 16:45','16 Dec 14:45','20 Dec 12:45','22 Dec 10:45','27 Dec 08:45','28 Dec 15:45','30 Dec 13:45','3 Jan 11:45','5 Jan 09:45','9 Jan 16:45','11 Jan 14:45','13 Jan 12:45','17 Jan 10:45','19 Jan 08:45','20 Jan 15:45','24 Jan 13:45','26 Jan 11:45','30 Jan 09:45'][datum.value / 16]",
                "labelAlign": "left", "labelOffset": 1, "tickSize": 3, "labelPadding": 2, "domain": false, "labelFlush": false, "labelOverlap": false}},
            "y": {"field": "k", "type": "quantitative", "scale": {"domain": [-0.4, 100.4], "nice": false, "zero": false, "padding": 0},
              "axis": {"orient": "right", "title": null, "values": [0, 20, 80, 100], "tickSize": 4, "labelPadding": 3, "domain": false,
                "labelBaseline": {"condition": [{"test": "datum.value === 100", "value": "top"}, {"test": "datum.value === 0", "value": "bottom"}], "value": "middle"}}}
          }
        },
        {
          "data": {"values": [{"i": 0.95, "s": 90.3, "t": "Stoch(8,3,3) 13.8356 12.8934"}]},
          "mark": {"type": "text", "align": "left", "baseline": "middle", "fontSize": 9.5, "color": "black"},
          "encoding": {
            "x": {"field": "i", "type": "quantitative", "scale": {"domain": [-0.375, 329.625], "nice": false, "zero": false, "padding": 0}, "axis": null},
            "y": {"field": "s", "type": "quantitative", "scale": {"domain": [-0.4, 100.4], "nice": false, "zero": false, "padding": 0}, "axis": null},
            "text": {"field": "t"}
          }
        }
      ]
    }
  ]
}
